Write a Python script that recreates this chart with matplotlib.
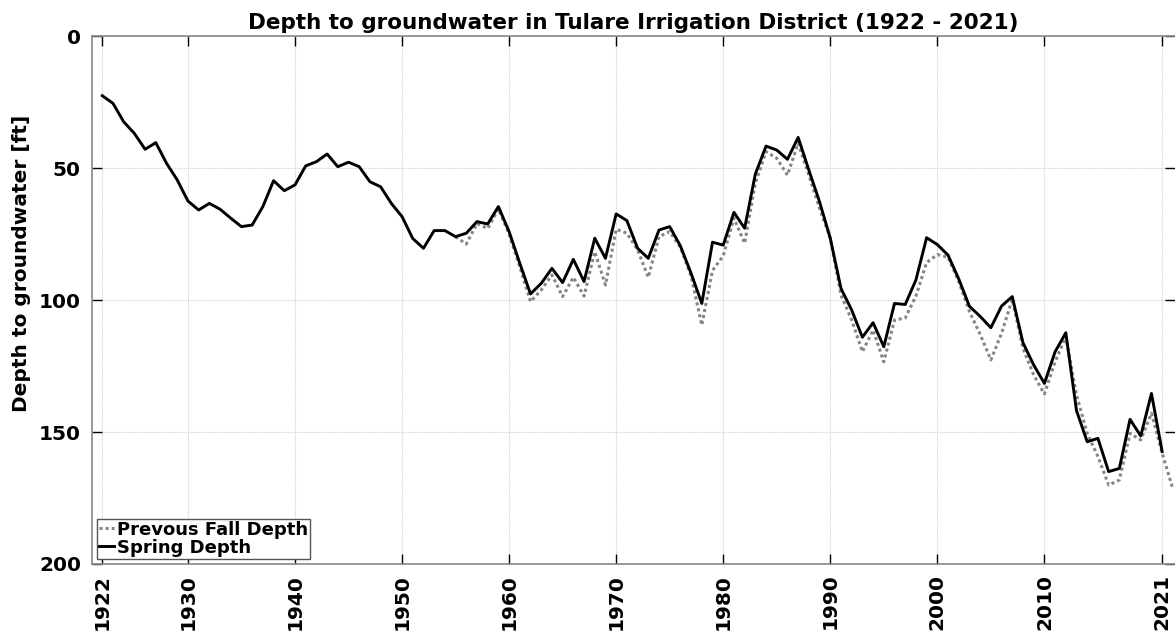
import numpy as np
import matplotlib
matplotlib.use("Agg")
import matplotlib.pyplot as plt

# Spring depth to groundwater [ft], 1922-2021
spring_years = np.arange(1922, 2022)
spring_depth = [
    22.6, 25.5, 32.5, 36.9, 42.9, 40.4, 48.2, 54.5, 62.5, 65.9,
    63.4, 65.6, 69.0, 72.2, 71.6, 64.6, 54.8, 58.6, 56.4, 49.2,
    47.6, 44.7, 49.5, 47.8, 49.5, 55.2, 57.1, 63.4, 68.4, 76.7,
    80.4, 73.7, 73.7, 76.0, 74.7, 70.3, 71.2, 64.6, 74.1, 86.1,
    97.7, 93.7, 88.0, 93.4, 84.6, 93.0, 76.6, 84.2, 67.4, 69.9,
    80.4, 84.2, 73.5, 72.2, 79.5, 89.9, 101.3, 78.1, 79.2, 66.8,
    72.8, 52.3, 41.7, 43.2, 46.7, 38.4, 50.8, 62.8, 76.6, 95.6,
    103.8, 114.1, 108.6, 117.7, 101.3, 101.7, 92.4, 76.4, 79.0, 83.0,
    92.0, 102.4, 106.2, 110.5, 102.3, 98.7, 116.2, 124.6, 131.6, 119.6,
    112.4, 141.9, 153.7, 152.4, 165.0, 163.8, 145.2, 151.5, 135.4, 157.4,
]

# Previous fall depth [ft], 1955-2022
fall_years = np.arange(1955, 2023)
fall_depth = [
    76.0, 78.8, 71.0, 72.9, 65.5, 75.0, 87.5, 100.6, 96.2, 90.5,
    98.7, 91.4, 98.5, 81.7, 94.3, 73.2, 74.7, 81.0, 91.4, 76.0,
    74.1, 80.0, 91.0, 109.5, 88.8, 83.3, 69.0, 78.5, 55.8, 43.8,
    46.3, 52.7, 40.6, 52.7, 65.3, 76.6, 98.1, 107.6, 119.6, 111.4,
    123.4, 107.6, 106.8, 98.5, 85.8, 82.8, 83.8, 93.0, 104.4, 113.0,
    122.7, 112.6, 99.7, 118.3, 128.4, 135.6, 123.4, 113.9, 136.0, 150.5,
    159.3, 170.1, 168.2, 150.5, 153.0, 142.9, 158.0, 171.5,
]

xticks = [1922, 1930, 1940, 1950, 1960, 1970, 1980, 1990, 2000, 2010, 2021]
yticks = [0, 50, 100, 150, 200]

plt.rcParams['font.family'] = 'DejaVu Sans'
plt.rcParams['font.weight'] = 'bold'

fig = plt.figure(figsize=(11.75, 6.32), dpi=100)
ax = fig.add_axes([0.0783, 0.1076, 0.9217, 0.8354])

ax.plot(fall_years, fall_depth, color='#858585', linestyle=(0, (1, 1)),
        linewidth=2.2, label='Prevous Fall Depth')
ax.plot(spring_years, spring_depth, color='black', linewidth=2.1,
        label='Spring Depth')

ax.set_xlim(1921.04, 2022.2)
ax.set_ylim(200, 0)
ax.set_xticks(xticks)
ax.set_yticks(yticks)
ax.set_xticklabels([str(t) for t in xticks], rotation=90, fontsize=14.5, fontweight='bold')
ax.set_yticklabels([str(t) for t in yticks], fontsize=14.5, fontweight='bold')

ax.tick_params(direction='in', length=7, width=1, top=True, right=True, color='black')
ax.tick_params(axis='x', pad=7)
ax.tick_params(axis='y', pad=8)

ax.grid(True, color='#d0d0d0', linestyle=(0, (1, 1)), linewidth=0.8)
for side in ['left', 'bottom', 'top']:
    ax.spines[side].set_color('#888888')
    ax.spines[side].set_linewidth(1.2)
ax.spines['right'].set_visible(False)

ax.set_title('Depth to groundwater in Tulare Irrigation District (1922 - 2021)',
             fontsize=15.5, fontweight='bold', pad=5)
ax.set_ylabel('Depth to groundwater [ft]', fontsize=14.5, fontweight='bold')
ax.yaxis.set_label_coords(-0.056, 0.57)

leg = ax.legend(loc='lower left', prop={'weight': 'bold', 'size': 13},
                handlelength=0.8, handletextpad=0.2, borderpad=0.1,
                borderaxespad=0.3, labelspacing=0.0, fancybox=False,
                framealpha=1, edgecolor='#555555')
leg.get_frame().set_linewidth(1.0)

fig.savefig('out.png', dpi=100)
